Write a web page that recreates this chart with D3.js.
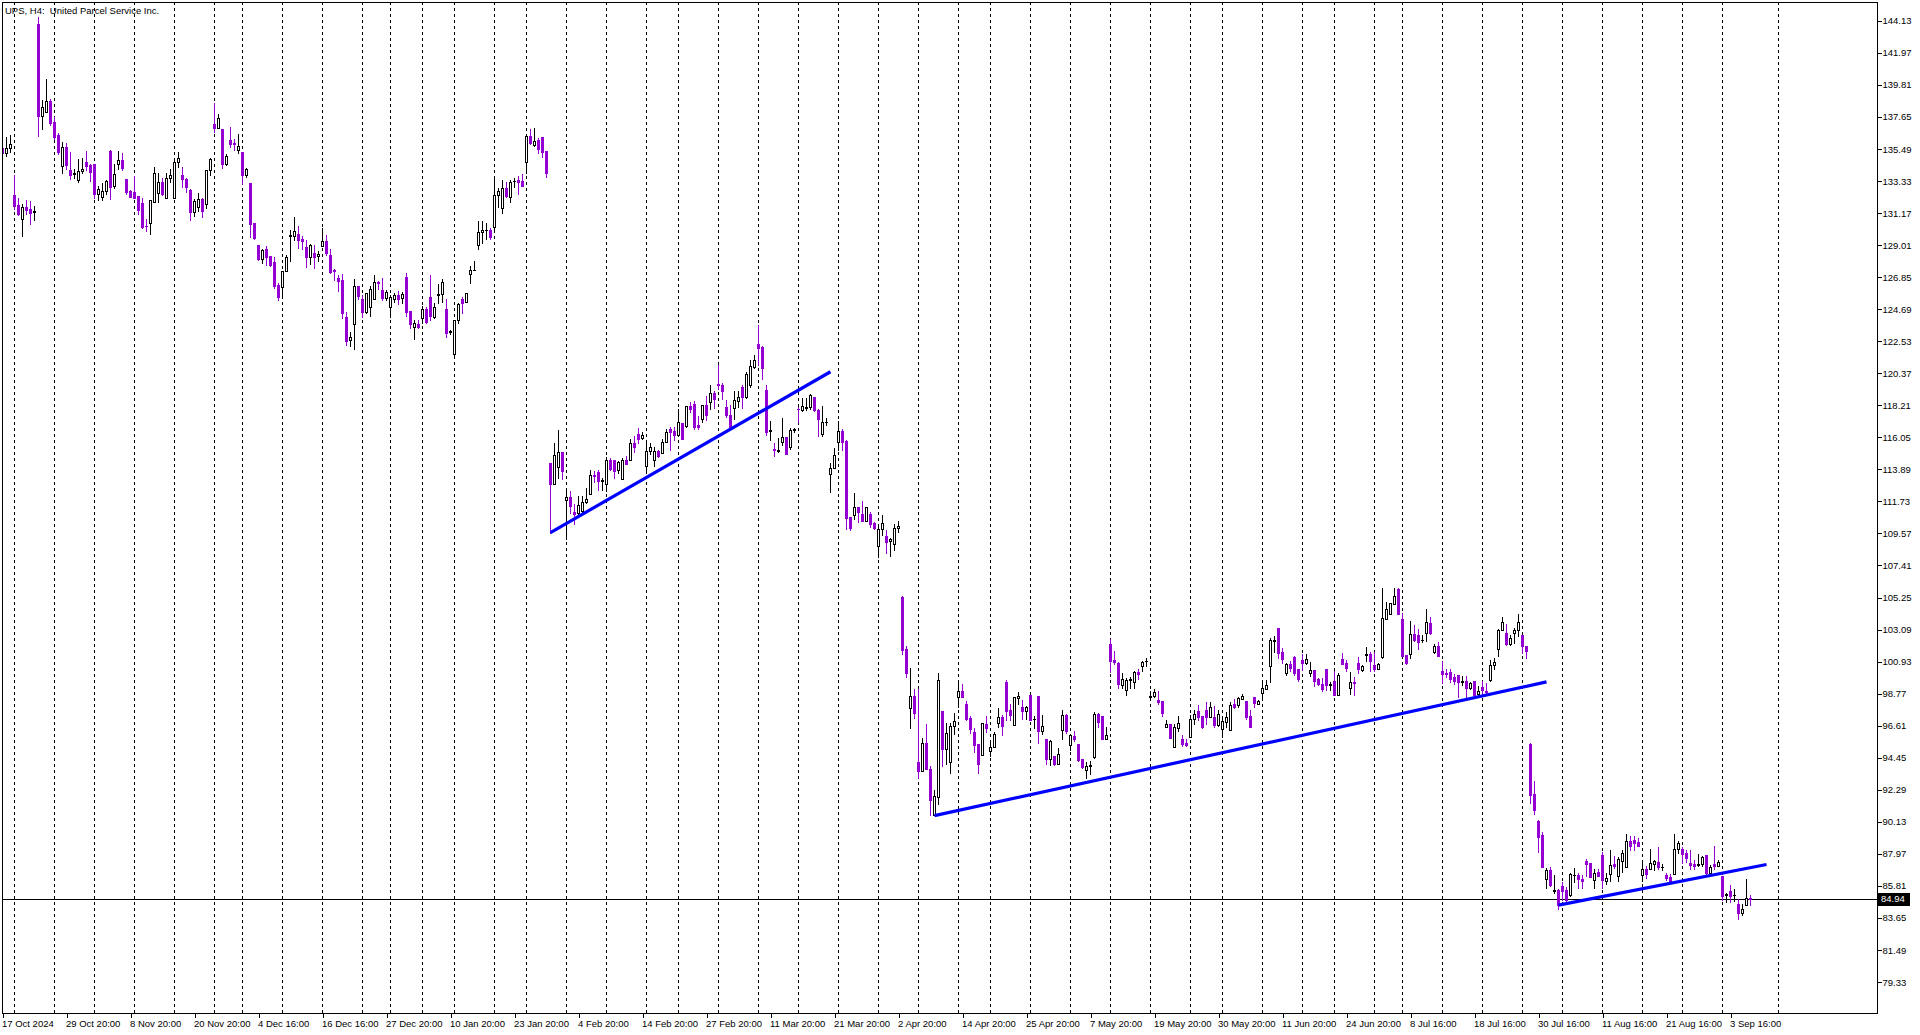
<!DOCTYPE html>
<html><head><meta charset="utf-8">
<script src="https://cdn.jsdelivr.net/npm/d3@7"></script>
<style>
html,body{margin:0;padding:0;background:#fff;overflow:hidden}
svg{display:block}
text{font-family:"Liberation Sans",Arial,sans-serif;font-size:9.5px;fill:#000}
</style>
</head><body>
<svg id="c" width="1920" height="1035"></svg>
<script>
const title = "UPS, H4:  United Parcel Service Inc.";
const opens = [
135.58,135.19,135.53,132.38,131.71,130.79,131.57,131.44,131.24,143.91,
137.71,138.00,138.74,137.31,136.43,134.32,135.62,134.07,133.80,133.39,
133.98,134.59,134.41,134.47,132.47,132.27,132.65,135.35,133.01,134.50,
134.74,133.46,132.65,132.59,132.32,131.84,130.31,130.47,131.89,132.54,
133.26,132.20,133.51,132.20,134.59,133.73,133.46,132.72,131.26,131.60,
132.11,131.75,134.05,137.15,136.92,136.83,134.50,136.07,135.89,135.44,
135.28,133.76,133.19,130.50,129.01,128.07,128.74,128.25,127.87,126.32,
126.16,127.24,129.62,129.62,129.73,129.42,128.88,128.23,128.45,128.25,
128.97,129.28,128.34,127.30,126.79,126.65,124.13,122.58,123.66,126.27,
125.37,124.47,124.85,125.35,126.54,125.96,125.46,124.81,125.39,125.64,
125.41,126.85,124.56,123.50,123.71,124.11,124.67,125.48,124.18,125.66,
125.69,124.67,123.14,121.64,123.93,125.35,125.15,127.03,127.30,129.01,
129.91,130.00,130.02,130.20,132.36,131.48,132.83,132.27,133.30,133.39,
133.30,134.59,136.36,135.78,136.07,136.29,135.35,114.29,112.87,114.06,
115.05,111.84,112.02,111.01,110.92,111.10,111.70,112.20,113.48,113.70,
113.10,112.92,114.54,114.51,113.82,113.26,114.49,114.49,115.64,116.26,
116.02,114.15,115.10,114.49,115.10,114.96,115.71,116.58,116.45,116.18,
116.99,116.83,118.13,118.29,116.87,117.26,118.25,118.40,119.03,119.64,
119.55,118.07,117.53,118.02,118.51,119.44,118.79,119.55,120.81,122.34,
122.13,119.23,116.49,115.26,115.12,115.75,116.07,115.41,116.54,117.98,
117.89,118.02,118.07,118.76,117.89,116.29,117.05,113.61,113.95,115.71,
116.47,115.80,110.65,110.78,111.32,110.87,110.40,110.90,110.29,108.74,
109.86,109.39,109.05,108.89,109.97,105.30,101.77,97.81,98.58,94.15,
93.56,95.47,93.72,90.62,91.81,97.59,95.07,94.17,96.62,98.51,
98.94,98.06,97.14,96.17,95.36,94.60,96.75,94.87,95.18,96.82,
97.18,99.54,97.65,96.66,98.49,97.86,97.61,98.66,97.05,98.60,
96.28,95.70,94.37,94.55,94.06,96.35,97.36,95.34,95.90,95.36,
94.35,93.59,93.92,94.51,97.38,97.23,95.74,102.15,101.03,100.82,
99.34,99.02,99.70,99.56,100.22,100.60,100.96,98.53,98.64,98.33,
98.26,96.49,96.71,95.20,96.46,95.74,95.45,95.86,97.03,97.59,
97.28,97.66,97.19,97.19,96.65,96.40,96.87,96.31,98.06,98.02,
98.42,98.29,97.28,98.56,98.09,98.81,99.10,100.65,102.33,103.17,
101.57,100.18,100.74,101.21,100.42,101.03,100.85,100.13,100.36,99.73,
99.41,100.42,99.35,99.62,98.69,101.12,100.83,99.17,99.53,100.83,
100.36,101.37,101.44,100.69,100.40,101.23,103.82,104.11,104.83,105.82,
103.77,101.37,101.41,102.76,102.69,102.36,102.83,103.53,101.57,101.98,
100.29,100.13,100.20,99.91,100.00,99.57,99.62,99.17,99.59,98.72,
99.19,98.94,99.68,100.67,101.79,103.09,102.89,102.13,102.89,103.09,
102.69,102.01,95.38,92.00,90.19,89.23,86.30,86.86,85.49,85.52,
85.79,85.52,85.18,86.53,86.53,86.26,87.49,87.34,86.19,86.73,
87.88,86.15,86.60,87.27,86.46,87.52,87.05,88.82,88.89,88.75,
86.55,86.98,86.98,87.31,87.40,87.07,86.53,86.42,86.60,88.33,
88.28,88.01,87.38,87.27,87.25,87.29,87.88,86.71,87.31,87.18,
86.48,85.22,85.45,85.18,84.62,83.99,84.55,85.02];
const highs = [
135.65,136.27,136.41,133.73,132.20,131.75,132.02,131.98,131.62,144.36,
138.79,140.21,138.83,137.67,136.59,135.96,135.89,135.28,134.11,134.81,
134.88,135.35,134.47,134.47,132.99,133.19,133.42,135.42,134.45,135.33,
135.19,133.46,132.72,133.66,132.32,132.16,130.76,132.02,134.25,133.87,
133.55,133.87,134.14,134.90,135.26,134.29,133.51,132.76,132.09,132.52,
132.18,134.05,134.90,138.56,137.82,136.83,135.15,136.95,136.16,136.50,
135.28,134.23,133.19,130.50,129.01,128.76,128.94,128.25,128.20,126.43,
127.24,128.31,130.00,130.90,130.32,129.62,129.35,129.08,129.01,128.61,
130.16,129.69,128.74,127.39,127.01,127.06,124.47,123.12,126.72,126.27,
125.62,125.80,126.22,126.99,126.58,126.79,125.98,125.62,125.77,125.91,
125.82,127.12,124.56,123.95,123.98,124.92,124.85,126.99,125.08,126.36,
126.72,125.35,123.28,123.93,125.10,125.53,125.78,127.62,127.91,130.63,
130.61,130.47,130.14,133.66,132.85,133.39,133.26,133.39,133.53,133.66,
133.80,136.50,136.83,136.90,136.25,136.29,135.35,114.29,115.68,116.51,
115.05,112.65,112.42,111.55,112.09,112.11,112.65,113.84,113.77,113.82,
113.28,114.74,114.65,114.51,114.45,114.67,114.76,115.93,116.13,116.65,
116.38,115.84,115.64,115.41,115.21,115.91,116.58,116.76,116.72,117.99,
116.99,118.13,118.45,118.49,117.50,118.20,118.83,119.59,119.19,120.92,
119.70,118.56,118.20,119.17,119.14,119.59,120.47,121.26,121.62,123.60,
122.22,119.57,117.14,115.68,116.00,117.35,116.07,116.65,116.67,118.09,
118.70,118.70,118.96,118.76,117.98,118.16,117.37,114.29,115.30,117.17,
116.58,115.89,110.65,112.29,111.35,111.75,111.37,111.03,110.36,110.02,
110.81,109.79,109.23,110.18,110.42,105.36,101.97,100.53,99.09,99.07,
95.81,96.75,93.88,92.30,100.13,97.59,96.82,96.82,97.45,99.68,
99.45,98.26,97.23,96.44,95.36,96.82,97.25,95.61,96.19,97.79,
97.34,99.68,98.10,98.55,98.87,98.31,97.97,98.66,97.29,98.60,
97.36,95.70,95.63,94.55,95.09,97.65,97.43,96.06,96.24,95.36,
94.35,94.17,94.22,97.54,97.47,97.29,96.51,102.44,101.63,100.91,
100.19,99.81,99.92,100.31,100.40,101.00,101.14,98.98,99.07,98.94,
98.26,96.98,96.75,96.71,97.25,95.97,95.68,97.32,97.70,98.00,
97.28,98.24,98.18,97.93,97.66,97.10,97.50,98.18,98.40,98.56,
98.74,98.29,97.64,98.56,98.31,99.59,99.70,102.49,102.63,103.17,
101.84,100.85,100.96,101.30,100.42,101.41,101.41,100.87,100.36,99.84,
99.82,100.42,99.53,100.31,100.13,101.53,101.03,100.20,99.91,101.21,
100.69,101.89,101.57,101.57,100.83,105.91,104.92,104.90,105.91,105.91,
104.18,101.37,103.66,103.39,103.14,102.69,104.45,103.91,102.13,102.27,
100.99,100.42,100.40,100.09,100.04,99.95,99.95,99.57,99.59,99.30,
99.62,99.47,101.03,101.14,103.16,103.93,103.45,102.69,103.21,104.13,
102.69,102.01,95.43,92.87,90.26,89.43,87.02,87.09,86.53,85.61,
86.08,85.74,86.69,87.02,86.71,86.53,87.61,87.38,86.93,86.96,
88.08,86.69,88.21,87.81,87.76,88.26,89.29,89.20,89.16,89.02,
87.54,87.16,88.28,87.54,88.44,87.27,86.66,86.60,89.29,88.84,
88.44,88.21,88.21,87.58,87.99,87.81,87.88,87.20,88.48,87.58,
86.48,85.36,85.85,85.63,84.95,84.57,86.30,85.18];
const lows = [
135.20,135.04,135.31,131.44,131.05,129.64,131.08,130.45,130.72,136.36,
136.86,138.00,137.10,136.18,135.13,133.89,134.16,133.46,133.51,133.26,
133.89,134.07,133.33,132.20,132.02,132.02,132.47,132.09,132.83,134.16,
134.05,132.43,132.23,132.20,131.10,130.18,129.93,129.78,131.89,131.91,
132.38,132.20,133.26,132.20,134.25,132.94,132.61,130.70,130.99,131.30,
130.92,131.51,133.76,136.65,136.92,134.23,134.41,135.64,135.42,135.24,
133.10,133.57,129.57,129.39,127.98,127.78,127.64,127.60,126.13,125.33,
125.44,127.24,127.96,129.35,128.83,128.74,127.55,127.75,127.48,127.95,
128.97,128.32,127.12,126.65,125.93,124.11,122.27,122.22,121.98,125.37,
124.18,124.40,124.25,125.35,126.07,125.30,125.30,124.13,125.17,125.03,
125.12,124.25,123.44,122.70,123.41,123.73,123.77,123.95,124.07,125.12,
125.19,122.83,123.01,121.53,123.77,124.45,125.15,126.43,127.30,128.74,
129.12,129.39,129.39,129.87,131.60,131.19,132.23,131.93,132.94,132.45,
133.01,133.89,135.80,135.69,135.24,134.92,133.62,109.57,112.87,113.32,
113.23,109.21,110.92,110.18,110.76,110.92,111.59,112.20,113.01,112.51,
112.51,112.45,113.88,113.32,113.66,113.26,114.22,114.49,115.08,115.64,
115.91,113.66,114.90,114.15,114.74,114.96,115.71,115.17,115.84,116.13,
115.93,116.72,117.77,116.60,116.60,117.08,117.21,117.93,118.04,119.28,
118.63,117.39,116.72,117.30,118.11,118.04,118.67,119.44,120.74,120.94,
119.95,116.18,115.84,114.81,115.08,115.53,114.90,115.28,116.42,117.10,
117.80,117.89,117.98,117.80,116.16,116.11,116.85,112.38,113.95,115.19,
115.19,109.84,109.79,110.51,110.36,110.42,110.38,110.02,109.88,107.99,
109.46,108.27,108.06,108.45,109.64,101.47,99.90,96.46,97.14,93.09,
93.56,93.70,90.62,90.62,91.32,93.92,94.06,93.43,96.06,97.88,
98.51,96.98,96.10,94.82,93.43,94.60,96.19,94.57,95.18,96.53,
95.99,96.96,96.96,96.66,98.10,97.07,97.07,96.96,96.46,95.45,
96.06,94.04,93.99,93.99,94.06,95.72,96.15,95.00,95.59,94.22,
93.79,93.09,93.32,94.40,96.51,95.72,95.74,100.24,100.76,99.18,
99.18,98.69,99.18,99.18,99.79,100.31,100.64,98.40,98.55,98.06,
97.25,96.49,95.77,95.20,96.26,95.23,95.27,95.86,96.74,97.01,
96.47,96.74,97.19,96.54,96.60,95.86,96.54,96.31,97.77,97.88,
98.42,97.03,96.54,97.88,98.04,98.33,99.10,99.57,101.57,101.17,
100.81,100.04,100.27,100.02,99.64,100.38,100.74,99.99,99.28,99.35,
98.96,99.01,99.03,98.65,98.69,100.74,100.31,98.76,98.67,100.13,
100.33,100.99,100.31,100.31,100.40,101.17,103.82,104.11,104.83,104.11,
101.30,100.74,101.14,102.33,101.77,102.27,102.31,102.76,101.53,101.30,
99.48,99.86,99.53,99.44,98.56,99.35,98.56,99.08,98.60,98.56,
98.74,98.78,99.61,100.44,101.32,103.05,102.06,102.06,102.19,102.67,
101.52,101.18,91.41,90.66,88.10,87.05,85.70,85.79,85.34,84.28,
84.89,84.66,85.11,86.08,85.70,85.70,86.46,86.42,85.70,86.46,
85.70,85.92,86.15,87.00,86.15,86.75,87.05,88.21,88.21,88.48,
86.15,86.37,86.98,86.91,86.96,86.87,86.24,86.06,86.60,88.03,
87.36,87.43,86.98,86.98,87.16,87.16,86.64,86.64,86.98,87.13,
84.89,84.73,84.73,84.80,83.58,83.85,84.55,84.51];
const closes = [
135.24,135.58,135.80,131.66,131.08,131.57,131.37,131.19,131.28,137.71,
138.29,138.72,137.26,136.29,135.31,135.62,134.41,133.76,133.84,133.98,
134.14,134.36,133.93,132.47,132.79,132.65,133.33,132.94,133.78,134.72,
134.20,132.59,132.23,132.20,131.37,130.23,130.27,132.02,133.84,133.24,
132.45,133.51,133.73,134.59,134.86,133.49,132.94,131.26,131.98,132.09,
131.33,134.05,134.83,136.92,137.55,134.50,135.01,135.85,135.85,135.69,
133.76,134.11,130.41,129.51,128.05,128.67,128.20,127.64,126.27,125.49,
127.24,128.18,129.66,129.96,129.35,129.30,128.23,128.99,128.23,128.41,
129.28,128.47,127.19,127.26,126.61,124.40,122.56,122.79,126.22,125.60,
124.49,125.75,126.02,126.50,126.43,125.46,125.82,125.51,125.64,125.37,
125.68,124.49,123.66,123.75,123.50,124.67,123.82,124.25,124.81,125.71,
126.50,123.10,123.19,123.93,125.03,125.12,125.75,127.30,127.35,129.91,
130.05,130.05,129.57,132.36,132.63,132.83,132.34,133.26,133.35,133.24,
133.01,136.36,135.91,136.00,135.51,135.31,133.84,112.87,114.83,115.05,
113.79,112.02,111.41,110.87,111.52,111.68,111.86,113.50,113.43,113.12,
113.14,114.51,113.93,113.79,114.36,114.49,114.27,115.64,115.37,115.95,
116.18,115.10,115.37,115.10,114.81,115.71,116.38,116.42,116.22,117.05,
115.95,118.13,117.93,116.76,116.72,118.20,117.55,119.01,118.61,119.55,
119.14,117.57,116.76,118.54,118.74,118.79,120.34,120.83,121.23,122.09,
120.70,116.42,116.54,115.21,115.17,116.04,114.94,116.54,116.60,117.93,
118.13,118.07,118.87,117.86,117.30,117.05,117.10,113.97,114.83,116.47,
115.73,110.63,109.95,111.32,111.01,110.42,111.32,110.24,109.95,109.86,
110.27,109.01,109.19,109.97,110.09,101.70,100.17,98.58,97.47,93.56,
95.47,93.70,91.58,91.86,99.68,95.07,96.15,96.62,96.91,98.94,
98.55,97.05,96.40,95.32,94.04,96.78,96.42,95.14,96.08,97.18,
96.60,97.61,97.34,98.55,98.64,97.61,97.86,97.00,97.09,96.24,
96.58,94.37,95.56,94.04,94.73,97.36,96.24,95.95,95.72,94.28,
93.83,93.92,93.97,97.38,96.89,95.72,95.95,100.98,100.91,99.45,
99.79,99.68,99.74,100.22,100.08,100.87,101.00,98.58,98.85,98.22,
97.47,96.69,95.77,96.49,96.82,95.38,95.32,97.03,97.43,97.19,
96.54,97.19,97.86,96.65,97.43,96.90,97.19,98.02,97.84,98.45,
98.60,97.21,96.54,98.15,98.27,99.14,99.32,102.36,102.38,101.53,
101.12,100.74,100.51,100.13,99.77,100.85,101.08,100.36,99.64,99.41,
99.10,99.32,99.39,98.69,100.06,100.74,100.51,99.55,99.46,100.42,
100.63,101.41,100.96,100.40,100.74,103.84,104.45,104.85,105.35,104.11,
101.30,100.85,102.76,102.38,102.27,102.40,103.57,102.83,101.98,101.30,
100.11,100.09,99.75,99.62,99.53,99.62,99.17,99.48,98.67,98.94,
98.99,98.85,100.67,100.87,103.09,103.63,102.10,102.55,103.09,103.57,
102.01,101.65,91.97,90.91,89.11,87.09,86.86,85.85,85.54,84.55,
85.47,84.84,86.60,86.57,86.26,86.17,87.31,86.44,86.71,86.46,
86.19,86.35,87.25,87.14,87.61,88.06,88.82,88.51,88.71,88.48,
86.98,86.60,87.34,87.47,87.05,87.11,86.37,86.10,88.33,88.73,
87.94,87.70,87.20,87.18,87.29,87.74,86.69,87.05,87.13,87.40,
85.16,85.27,85.13,85.22,83.99,84.28,85.02,84.94];

const priceTicks = [144.13,141.97,139.81,137.65,135.49,133.33,131.17,129.01,126.85,124.69,
  122.53,120.37,118.21,116.05,113.89,111.73,109.57,107.41,105.25,103.09,100.93,98.77,
  96.61,94.45,92.29,90.13,87.97,85.81,83.65,81.49,79.33];
const timeLabels = ["17 Oct 2024","29 Oct 20:00","8 Nov 20:00","20 Nov 20:00","4 Dec 16:00",
  "16 Dec 16:00","27 Dec 20:00","10 Jan 20:00","23 Jan 20:00","4 Feb 20:00","14 Feb 20:00",
  "27 Feb 20:00","11 Mar 20:00","21 Mar 20:00","2 Apr 20:00","14 Apr 20:00","25 Apr 20:00",
  "7 May 20:00","19 May 20:00","30 May 20:00","11 Jun 20:00","24 Jun 20:00","8 Jul 16:00",
  "18 Jul 16:00","30 Jul 16:00","11 Aug 16:00","21 Aug 16:00","3 Sep 16:00"];
const timeLabelBars = [0,16,32,48,64,80,96,112,128,144,160,176,192,208,224,240,256,272,288,304,
  320,336,352,368,384,400,416,432];
const weekStartBars = [3,13,23,33,43,53,60,70,80,90,97,105,113,123,131,141,151,161,169,179,189,
  199,209,219,229,239,247,257,267,277,287,297,305,315,325,333,343,350,360,370,380,390,400,410,
  420,430,444];
// trend lines: [bar1, price1, bar2, price2]
const trendLines = [
  [137,109.63,207,120.47],
  [233,90.55,386,99.56],
  [389,84.51,441,87.25]];
const lastPrice = 84.94;

const BEAR = "#9400d3", BULL_EDGE = "#000", BULL_FILL = "#fff", LINE = "#0000ff";
const svg = d3.select("#c");
const W = 1920, H = 1035;
const plot = {left:2, top:2, right:1877, bottom:1013};
const x = d3.scaleLinear().domain([0,1]).range([2.5,6.5]);
const y = d3.scaleLinear().domain([79.33,144.13]).range([982.0,20.8]);

svg.append("rect").attr("width",W).attr("height",H).attr("fill","#fff");
svg.append("defs").append("clipPath").attr("id","clip").append("rect")
  .attr("x",plot.left).attr("y",plot.top)
  .attr("width",plot.right-plot.left).attr("height",plot.bottom-plot.top);
const pg = svg.append("g").attr("clip-path","url(#clip)");

// vertical grid (weekly separators)
pg.selectAll("line.grid").data(weekStartBars).join("line").attr("class","grid")
  .attr("x1",d=>x(d)).attr("x2",d=>x(d)).attr("y1",plot.top).attr("y2",plot.bottom)
  .attr("stroke","#000").attr("stroke-width",1).attr("stroke-dasharray","3,3")
  .attr("shape-rendering","crispEdges");

// current price line
const yLast = Math.round(y(lastPrice)) + 0.5;
pg.append("line").attr("x1",plot.left).attr("x2",plot.right).attr("y1",yLast).attr("y2",yLast)
  .attr("stroke","#000").attr("stroke-width",1).attr("shape-rendering","crispEdges");

// candles
const bars = opens.map((o,i)=>({i, o, h:highs[i], l:lows[i], c:closes[i]}));
const R = v => Math.round(y(v));
pg.selectAll("rect.wick").data(bars).join("rect").attr("class","wick")
  .attr("x",d=>x(d.i)-0.5).attr("width",1)
  .attr("y",d=>R(d.h)).attr("height",d=>Math.max(1,R(d.l)-R(d.h)+1))
  .attr("fill",d=>d.c>=d.o?BULL_EDGE:BEAR).attr("shape-rendering","crispEdges");

const bull = bars.filter(d=>d.c>=d.o), bear = bars.filter(d=>d.c<d.o);
pg.selectAll("rect.bull").data(bull).join("rect").attr("class","bull")
  .each(function(d){
    const top = R(d.c), bot = R(d.o), s = d3.select(this);
    if (bot-top >= 2) {
      s.attr("x",x(d.i)-1).attr("y",top+0.5).attr("width",2).attr("height",bot-top)
       .attr("fill",BULL_FILL).attr("stroke",BULL_EDGE).attr("stroke-width",1);
    } else {
      s.attr("x",x(d.i)-1.5).attr("y",top).attr("width",3).attr("height",bot-top+1)
       .attr("fill",BULL_EDGE);
    }
  }).attr("shape-rendering","crispEdges");
pg.selectAll("rect.bear").data(bear).join("rect").attr("class","bear")
  .attr("x",d=>x(d.i)-1.5).attr("width",3)
  .attr("y",d=>R(d.o)).attr("height",d=>Math.max(1,R(d.c)-R(d.o)+1))
  .attr("fill",BEAR).attr("shape-rendering","crispEdges");

// trend lines
pg.selectAll("line.trend").data(trendLines).join("line").attr("class","trend")
  .attr("x1",d=>x(d[0])).attr("y1",d=>y(d[1])).attr("x2",d=>x(d[2])).attr("y2",d=>y(d[3]))
  .attr("stroke",LINE).attr("stroke-width",3.2);

// frame
svg.append("rect").attr("x",plot.left+0.5).attr("y",plot.top+0.5)
  .attr("width",plot.right-plot.left).attr("height",plot.bottom-plot.top)
  .attr("fill","none").attr("stroke","#000").attr("stroke-width",1);

// right price axis
const ya = svg.append("g").attr("transform",`translate(${plot.right+0.5},0)`)
  .call(d3.axisRight(y).tickValues(priceTicks).tickSize(4).tickPadding(1).tickFormat(d3.format(".2f")));
ya.select(".domain").remove();
ya.selectAll("line").attr("stroke","#000").attr("shape-rendering","crispEdges");
ya.selectAll("text").attr("fill","#000").style("font-family","'Liberation Sans',Arial,sans-serif").style("font-size","9.5px");

// last price label
const lp = svg.append("g");
lp.append("rect").attr("x",plot.right+1).attr("y",Math.round(y(lastPrice))-6).attr("width",32).attr("height",13).attr("fill","#000");
lp.append("text").attr("x",plot.right+4).attr("y",Math.round(y(lastPrice))).attr("dy","0.35em")
  .style("fill","#fff").text(d3.format(".2f")(lastPrice));

// bottom time axis
const xa = svg.append("g").attr("transform",`translate(0,${plot.bottom+0.5})`)
  .call(d3.axisBottom(x).tickValues(timeLabelBars).tickSize(4).tickPadding(3)
    .tickFormat((d,i)=>timeLabels[i]));
xa.select(".domain").remove();
xa.selectAll("line").attr("stroke","#000").attr("shape-rendering","crispEdges");
xa.selectAll("text").attr("text-anchor","start").attr("x",-1).attr("fill","#000")
  .style("font-family","'Liberation Sans',Arial,sans-serif").style("font-size","9.5px");

// title
svg.append("text").attr("x",5).attr("y",14).attr("xml:space","preserve")
  .style("white-space","pre").text(title);
</script>
</body></html>
